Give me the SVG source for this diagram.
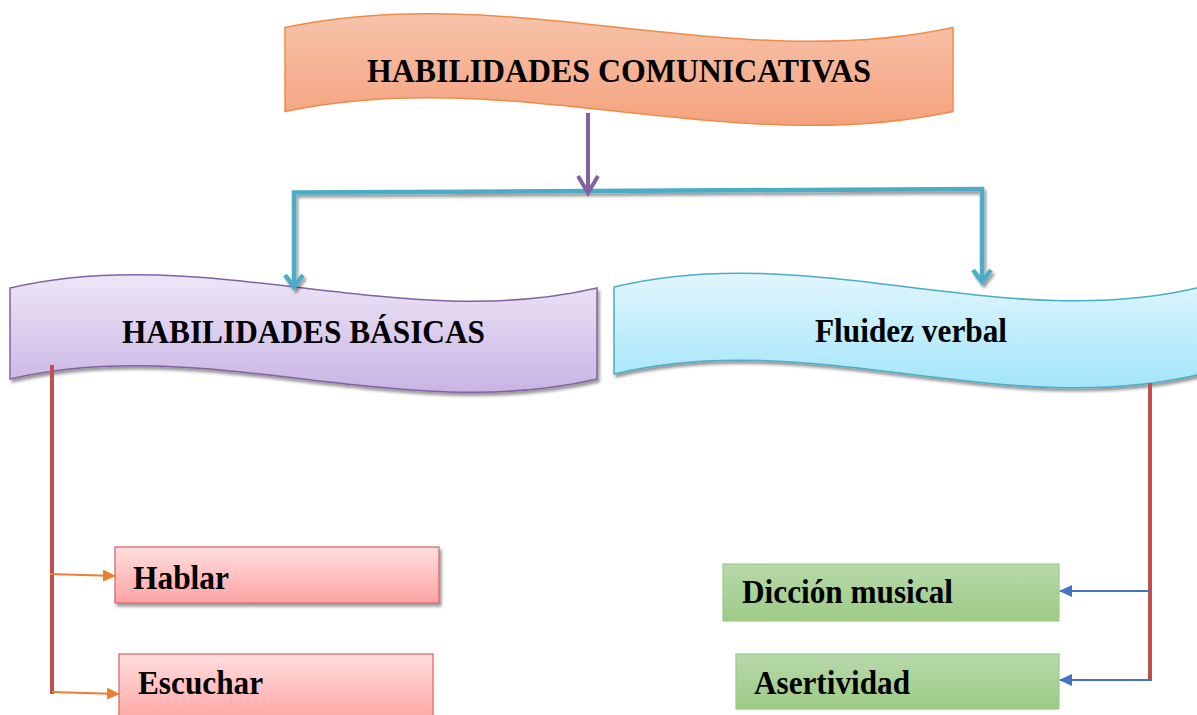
<svg xmlns="http://www.w3.org/2000/svg" width="1197" height="715" viewBox="0 0 1197 715">
<defs>
<style>
.t{font-family:"Liberation Serif","Times New Roman",serif;font-weight:bold;font-size:33px;fill:#000}
.teal{fill:none;stroke:#4bacc6;stroke-width:4.5;stroke-linejoin:miter}
.red{fill:none;stroke:#c0504d;stroke-width:4}
.org{fill:none;stroke:#ed7d31;stroke-width:2}
.blu{fill:none;stroke:#4472c4;stroke-width:2}
</style>
<linearGradient id="gO" x1="0" y1="0" x2="0" y2="1"><stop offset="0" stop-color="#f7c3aa"/><stop offset="1" stop-color="#f4a27e"/></linearGradient>
<linearGradient id="gP" x1="0" y1="0" x2="0" y2="1"><stop offset="0" stop-color="#ede6f7"/><stop offset="1" stop-color="#c9b4e4"/></linearGradient>
<linearGradient id="gC" x1="0" y1="0" x2="0" y2="1"><stop offset="0" stop-color="#e2f6fd"/><stop offset="1" stop-color="#a3e5fa"/></linearGradient>
<linearGradient id="gR" x1="0" y1="0" x2="0" y2="1"><stop offset="0" stop-color="#ffdede"/><stop offset="1" stop-color="#ffa3a3"/></linearGradient>
<linearGradient id="gG" x1="0" y1="0" x2="0" y2="1"><stop offset="0" stop-color="#b8d9aa"/><stop offset="1" stop-color="#9ccb86"/></linearGradient>
<filter id="sh" x="-5%" y="-10%" width="110%" height="130%"><feDropShadow dx="2" dy="3" stdDeviation="1.5" flood-color="#000" flood-opacity="0.4"/></filter>
<marker id="aO" markerWidth="13" markerHeight="12" refX="12" refY="6" orient="auto" markerUnits="userSpaceOnUse"><path d="M0,0 L13,6 L0,12 Z" fill="#ed7d31"/></marker>
<marker id="aB" markerWidth="13" markerHeight="12" refX="12" refY="6" orient="auto" markerUnits="userSpaceOnUse"><path d="M0,0 L13,6 L0,12 Z" fill="#4472c4"/></marker>
</defs>
<rect width="1197" height="715" fill="#fff"/>

<g id="n-comunicativas">
<path d="M285,27.5 C507.7,-20.5 730.3,75.5 953,27.5 L953,111.5 C730.3,159.5 507.7,63.5 285,111.5 Z" fill="url(#gO)" stroke="#f08c48" stroke-width="1.5"/>
<text class="t" x="619" y="82" text-anchor="middle" textLength="504" lengthAdjust="spacingAndGlyphs">HABILIDADES COMUNICATIVAS</text>
</g>

<g id="n-basicas">
<path d="M10,288 C205.7,242 401.3,334 597,288 L597,379 C401.3,425 205.7,333 10,379 Z" fill="url(#gP)" stroke="#8064a2" stroke-width="1.5" filter="url(#sh)"/>
<text class="t" x="303.5" y="343" text-anchor="middle" textLength="363" lengthAdjust="spacingAndGlyphs">HABILIDADES BÁSICAS</text>
</g>

<g id="n-fluidez">
<path d="M614,287 C809.7,239 1005.3,335 1201,287 L1201,374 C1005.3,422 809.7,326 614,374 Z" fill="url(#gC)" stroke="#4bacc6" stroke-width="1.5" filter="url(#sh)"/>
<text class="t" x="911" y="342" text-anchor="middle" textLength="192" lengthAdjust="spacingAndGlyphs">Fluidez verbal</text>
</g>

<g id="n-hablar">
<rect x="115" y="547" width="324" height="56" fill="url(#gR)" stroke="#d9605e" stroke-width="1.2" filter="url(#sh)"/>
<text class="t" x="133" y="589" textLength="96" lengthAdjust="spacingAndGlyphs">Hablar</text>
</g>

<g id="n-escuchar">
<rect x="119" y="654" width="314" height="70" fill="url(#gR)" stroke="#d9605e" stroke-width="1.2"/>
<text class="t" x="138" y="694" textLength="125" lengthAdjust="spacingAndGlyphs">Escuchar</text>
</g>

<g id="n-diccion">
<rect x="723" y="564" width="336" height="57" fill="url(#gG)" stroke="#9ccb86" stroke-width="1.2"/>
<text class="t" x="742" y="603" textLength="211" lengthAdjust="spacingAndGlyphs">Dicción musical</text>
</g>

<g id="n-asertividad">
<rect x="736" y="654" width="323" height="55" fill="url(#gG)" stroke="#9ccb86" stroke-width="1.2"/>
<text class="t" x="754" y="694" textLength="156" lengthAdjust="spacingAndGlyphs">Asertividad</text>
</g>

<g id="connectors">
<g filter="url(#sh)">
<path class="teal" d="M294,287 L294,192.5 L982,189 L982,282"/>
<path class="teal" d="M285,275 L294,287 L303,275"/>
<path class="teal" d="M973,270 L982,282 L991,270"/>
</g>
<path d="M588,113 L588,193" fill="none" stroke="#8064a2" stroke-width="4"/>
<path d="M578,176 L588,193 L598,176" fill="none" stroke="#8064a2" stroke-width="4"/>
<path class="red" d="M52,365 L52,694"/>
<path class="red" d="M1150,383 L1150,679"/>
<path class="org" d="M50,574 L115,576" marker-end="url(#aO)"/>
<path class="org" d="M52,692 L119,694" marker-end="url(#aO)"/>
<path class="blu" d="M1150,591 L1060,591" marker-end="url(#aB)"/>
<path class="blu" d="M1152,680 L1060,680" marker-end="url(#aB)"/>
</g>
</svg>
